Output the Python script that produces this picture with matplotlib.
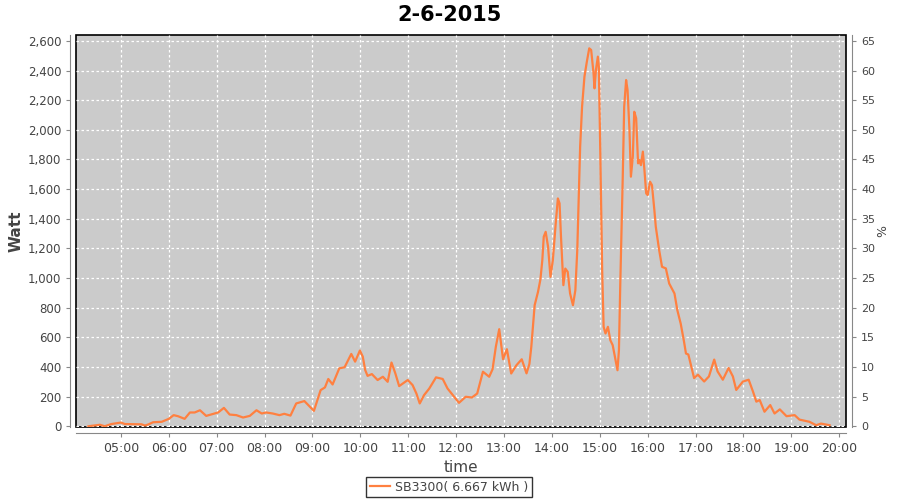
import matplotlib
matplotlib.use("Agg")
import matplotlib.pyplot as plt
from matplotlib.ticker import FuncFormatter, MultipleLocator

# readings of the day (decimal hour, watt)
hours = [
    4.32, 4.56, 4.66, 4.8, 5.0, 5.08, 5.43, 5.5, 5.57, 5.67, 5.85, 6.0, 6.1, 6.19,
    6.33, 6.44, 6.54, 6.65, 6.78, 6.88, 7.03, 7.15, 7.27, 7.41, 7.55, 7.69, 7.83,
    7.94, 8.03, 8.17, 8.31, 8.41, 8.54, 8.66, 8.83, 9.03, 9.17, 9.26, 9.33, 9.42,
    9.56, 9.67, 9.81, 9.89, 9.99, 10.05, 10.1, 10.15, 10.24, 10.36, 10.47, 10.57,
    10.65, 10.73, 10.81, 10.99, 11.09, 11.17, 11.24, 11.33, 11.44, 11.58, 11.72,
    11.82, 11.96, 12.06, 12.2, 12.33, 12.44, 12.56, 12.69, 12.76, 12.83, 12.9,
    12.98, 13.06, 13.15, 13.26, 13.37, 13.47, 13.53, 13.57, 13.64, 13.71, 13.76,
    13.8, 13.83, 13.87, 13.92, 13.97, 14.02, 14.08, 14.125, 14.16, 14.19, 14.24,
    14.28, 14.33, 14.38, 14.44, 14.49, 14.53, 14.56, 14.59, 14.63, 14.68, 14.73,
    14.78, 14.82, 14.87, 14.89, 14.92, 14.96, 14.98, 15.01, 15.05, 15.08, 15.12,
    15.17, 15.22, 15.27, 15.33, 15.37, 15.4, 15.43, 15.46, 15.48, 15.51, 15.55,
    15.58, 15.62, 15.65, 15.69, 15.72, 15.76, 15.8, 15.83, 15.86, 15.9, 15.93,
    15.97, 16.0, 16.05, 16.09, 16.14, 16.17, 16.24, 16.3, 16.38, 16.45, 16.56,
    16.62, 16.69, 16.76, 16.8, 16.85, 16.97, 17.05, 17.18, 17.28, 17.39, 17.46,
    17.57, 17.69, 17.78, 17.85, 17.99, 18.11, 18.2, 18.27, 18.34, 18.44, 18.56,
    18.65, 18.76, 18.9, 19.07, 19.17, 19.38, 19.52, 19.62, 19.8,
]
watts = [
    0, 10, 0, 15, 25, 15, 13, 5, 12, 27, 30, 50, 75, 68,
    50, 93, 93, 108, 70, 79, 93, 124, 79, 75, 59, 70, 108,
    86, 93, 86, 75, 84, 72, 154, 170, 104, 244, 262, 319, 282,
    391, 398, 488, 436, 511, 470, 380, 340, 352, 312, 334, 300,
    430, 357, 271, 312, 278, 221, 154, 210, 255, 330, 319,
    255, 199, 158, 199, 194, 221, 368, 334, 384, 538, 655,
    452, 520, 356, 412, 452, 357, 420, 536, 817, 907, 990,
    1121, 1279, 1312, 1211, 1008, 1121, 1369, 1537, 1504, 1279, 952,
    1064, 1042, 896, 817, 918, 1189, 1549, 1886, 2156, 2359, 2460,
    2550, 2539, 2381, 2280, 2404, 2494, 2427, 1864, 1053, 671, 626,
    671, 581, 547, 446, 378, 513, 986, 1391, 1684, 2156, 2336,
    2269, 1999, 1684, 1819, 2122, 2078, 1774, 1796, 1762, 1853, 1740,
    1571, 1560, 1650, 1627, 1459, 1346, 1189, 1076, 1065, 963, 896,
    783, 693, 570, 491, 484, 325, 348, 302, 336, 450, 370,
    314, 393, 336, 245, 302, 314, 234, 166, 177, 98, 143,
    86, 114, 68, 75, 45, 30, 7, 18, 7,
]
x_ticks = list(range(5, 21))
title = "2-6-2015"
series_label = "SB3300( 6.667 kWh )"

grey = "#444444"
axis_grey = "#888888"

fig = plt.figure(figsize=(9, 5), dpi=100)
ax = fig.add_axes([0.0844, 0.146, 0.856, 0.784])
ax.set_facecolor("#cbcbcb")
ax.patch.set_edgecolor("black")
ax.patch.set_linewidth(1.2)

line, = ax.plot(hours, watts, color="#ff8040", lw=1.6, label=series_label)

ax.set_xlim(4.06, 20.15)
ax.set_ylim(-5, 2640)
ax.set_xticks(x_ticks)
ax.xaxis.set_major_formatter(FuncFormatter(lambda v, p: "%02d:00" % int(round(v))))
ax.yaxis.set_major_locator(MultipleLocator(200))
ax.yaxis.set_major_formatter(FuncFormatter(lambda v, p: "{:,.0f}".format(v)))
ax.grid(True, color="white", ls=(0, (2, 2)), lw=0.9)

for side in ["top", "right"]:
    ax.spines[side].set_visible(False)
for side in ["left", "bottom"]:
    ax.spines[side].set_position(("outward", 4))
    ax.spines[side].set_color(axis_grey)
ax.tick_params(colors=grey, labelsize=9, length=3, color=axis_grey)
ax.tick_params(axis="y", labelsize=8.5)

ax.set_xlabel("time", fontsize=11, color=grey, labelpad=4)
ax.set_ylabel("Watt", fontsize=11, color=grey, fontweight="bold")
ax.yaxis.set_label_coords(-0.068, 0.5)

# percentage axis on the right
ax2 = ax.twinx()
ax2.set_ylim(-5 / 40, 2640 / 40)
ax2.yaxis.set_major_locator(MultipleLocator(5))
for side in ["top", "left", "bottom"]:
    ax2.spines[side].set_visible(False)
ax2.spines["right"].set_position(("outward", 4))
ax2.spines["right"].set_color(axis_grey)
ax2.tick_params(colors=grey, labelsize=8, length=3, color=axis_grey)
ax2.set_ylabel("%", fontsize=9, color=grey)
ax2.yaxis.set_label_coords(1.039, 0.5)

fig.suptitle(title, fontsize=15, fontweight="bold", y=0.99)

leg = fig.legend(handles=[line], loc="center", bbox_to_anchor=(0.499, 0.026),
                 frameon=True, fancybox=False, fontsize=9, handlelength=1.6,
                 handletextpad=0.4, borderpad=0.3, borderaxespad=0)
leg.get_frame().set_edgecolor("black")
leg.get_frame().set_linewidth(1.0)
for t in leg.get_texts():
    t.set_color(grey)

fig.savefig("out.png", dpi=100)
